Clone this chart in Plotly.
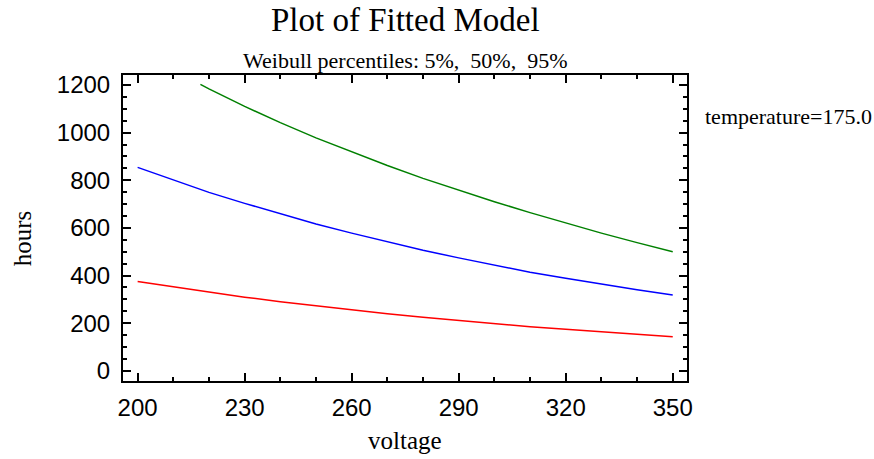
import plotly.graph_objects as go

# Data
voltage = [200, 210, 220, 230, 240, 250, 260, 270, 280, 290, 300, 310, 320, 330, 340, 350]
p5 = [375, 352, 330, 309, 290, 272, 255, 239, 225, 211, 198, 185, 174, 163, 153, 143]
p50 = [854, 800, 749, 703, 658, 616, 578, 541, 506, 474, 443, 414, 388, 363, 340, 318]
voltage95 = [217.6, 220, 230, 240, 250, 260, 270, 280, 290, 300, 310, 320, 330, 340, 350]
p95 = [1203, 1184, 1110, 1042, 978, 920, 862, 808, 758, 710, 664, 620, 578, 538, 500]

x_ticks = [200, 230, 260, 290, 320, 350]
y_ticks = [0, 200, 400, 600, 800, 1000, 1200]

title_text = "Plot of Fitted Model"
subtitle_text = "Weibull percentiles: 5%,  50%,  95%"
x_title = "voltage"
y_title = "hours"
note_text = "temperature=175.0"

SERIF = "Liberation Serif, Times New Roman, serif"
SANS = "Liberation Sans, Arial, sans-serif"

fig = go.Figure()
fig.add_trace(go.Scatter(x=voltage, y=p5, mode="lines", line=dict(color="#FF0000", width=1.5), showlegend=False))
fig.add_trace(go.Scatter(x=voltage, y=p50, mode="lines", line=dict(color="#0000FF", width=1.5), showlegend=False))
fig.add_trace(go.Scatter(x=voltage95, y=p95, mode="lines", line=dict(color="#008000", width=1.5), showlegend=False))

axis_common = dict(
    showline=True, linecolor="black", linewidth=2, mirror="allticks",
    ticks="inside", tickcolor="black", tickwidth=2, ticklen=8,
    showgrid=False, zeroline=False,
    tickfont=dict(family=SANS, size=24, color="black"),
)

fig.update_xaxes(
    range=[195.9, 354.0], tickmode="array", tickvals=x_ticks,
    ticktext=[str(v) for v in x_ticks], ticklabelstandoff=4,
    minor=dict(dtick=10, tick0=200, ticks="inside", ticklen=4, tickwidth=1.5, tickcolor="black"),
    **axis_common,
)
fig.update_yaxes(
    range=[-43, 1242], tickmode="array", tickvals=y_ticks,
    ticktext=[str(v) for v in y_ticks], ticklabelstandoff=6,
    minor=dict(dtick=50, tick0=0, ticks="inside", ticklen=4, tickwidth=1.5, tickcolor="black"),
    **axis_common,
)

annotations = [
    dict(text=title_text, x=0.5, y=1.18, xref="paper", yref="paper", showarrow=False,
         xanchor="center", yanchor="middle", font=dict(family=SERIF, size=33, color="black")),
    dict(text=subtitle_text, x=0.5, y=1.046, xref="paper", yref="paper", showarrow=False,
         xanchor="center", yanchor="middle", font=dict(family=SERIF, size=22, color="black")),
    dict(text=x_title, x=0.5, y=-0.195, xref="paper", yref="paper", showarrow=False,
         xanchor="center", yanchor="middle", font=dict(family=SERIF, size=25, color="black")),
    dict(text=y_title, x=-0.178, y=0.465, xref="paper", yref="paper", showarrow=False, textangle=-90,
         xanchor="center", yanchor="middle", font=dict(family=SERIF, size=25, color="black")),
    dict(text=note_text, x=1.029, y=0.863, xref="paper", yref="paper", showarrow=False,
         xanchor="left", yanchor="middle", font=dict(family=SERIF, size=22, color="black")),
]

fig.update_layout(
    width=874, height=459,
    margin=dict(l=123, r=187, t=75, b=78),
    paper_bgcolor="white", plot_bgcolor="white",
    annotations=annotations,
)

fig.write_html("out.html")
